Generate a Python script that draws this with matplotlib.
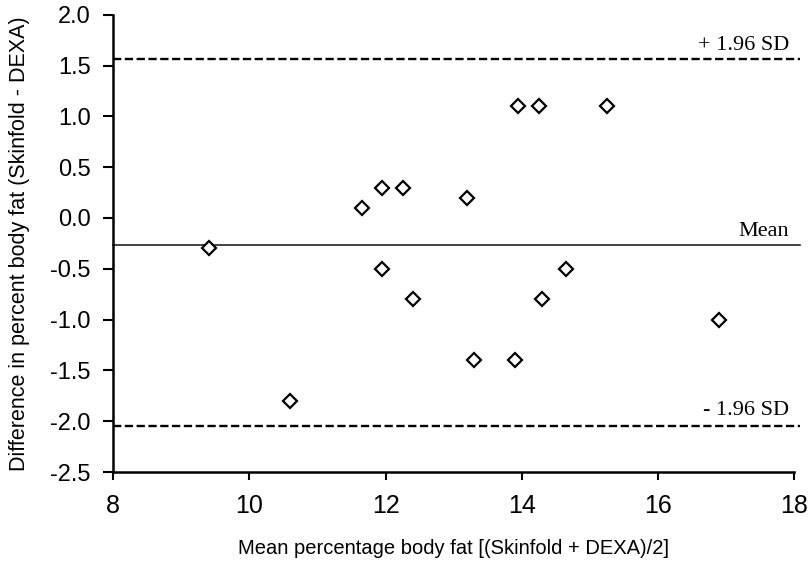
import matplotlib
matplotlib.use("Agg")
import matplotlib.pyplot as plt

# Bland-Altman data: mean of the two methods vs. their difference
mean_fat = [9.4, 10.6, 11.65, 11.95, 11.95, 12.25, 12.4, 13.2, 13.3,
            13.9, 13.95, 14.25, 14.3, 14.65, 15.25, 16.9]
diff_fat = [-0.3, -1.8, 0.1, 0.3, -0.5, 0.3, -0.8, 0.2, -1.4,
            -1.4, 1.1, 1.1, -0.8, -0.5, 1.1, -1.0]

mean_diff = -0.27
upper_loa = 1.56
lower_loa = -2.05

x_ticks = [8, 10, 12, 14, 16, 18]
y_ticks = [-2.5, -2.0, -1.5, -1.0, -0.5, 0.0, 0.5, 1.0, 1.5, 2.0]

fig = plt.figure(figsize=(8.11, 5.68), dpi=100)
ax = fig.add_axes([0.1395, 0.169, 0.840, 0.805])

ax.set_xlim(8, 18)
ax.set_ylim(-2.5, 2.0)

line_end = 18.08
ax.plot([8, line_end], [mean_diff, mean_diff], color="#222222", lw=1.2, clip_on=False)
ax.plot([8, line_end], [upper_loa, upper_loa], color="black", lw=1.7,
        ls=(0, (3.5, 1.5)), clip_on=False)
ax.plot([8, line_end], [lower_loa, lower_loa], color="black", lw=1.7,
        ls=(0, (3.5, 1.5)), clip_on=False)

ax.plot(mean_fat, diff_fat, ls="none", marker="D", markersize=7,
        markerfacecolor="white", markeredgecolor="black", markeredgewidth=1.6,
        zorder=3)

serif = ["Liberation Serif", "DejaVu Serif"]
ax.text(17.92, upper_loa + 0.04, "+ 1.96 SD", ha="right", va="bottom",
        fontsize=16, family=serif)
ax.text(17.92, mean_diff + 0.04, "Mean", ha="right", va="bottom",
        fontsize=16, family=serif)
ax.text(17.92, lower_loa + 0.06, "- 1.96 SD", ha="right", va="bottom",
        fontsize=16, family=serif)

sans = ["Liberation Sans", "DejaVu Sans"]
ax.set_xticks(x_ticks)
ax.set_xticklabels([str(v) for v in x_ticks], family=sans, fontsize=18)
ax.set_yticks(y_ticks)
ax.set_yticklabels([f"{v:.1f}".replace("\u2212", "-") for v in y_ticks],
                   family=sans, fontsize=17)

ax.spines["top"].set_visible(False)
ax.spines["right"].set_visible(False)
ax.spines["left"].set_linewidth(1.8)
ax.spines["bottom"].set_linewidth(1.8)
ax.tick_params(axis="y", direction="out", length=7, width=1.5, pad=9)
ax.tick_params(axis="x", direction="out", length=6, width=1.5, pad=10)

ax.set_xlabel("Mean percentage body fat [(Skinfold + DEXA)/2]", family=sans,
              fontsize=14.5, labelpad=15)
ax.set_ylabel("Difference in percent body fat (Skinfold - DEXA)", family=sans,
              fontsize=15.5, labelpad=15)

fig.savefig("out.png", dpi=100)
